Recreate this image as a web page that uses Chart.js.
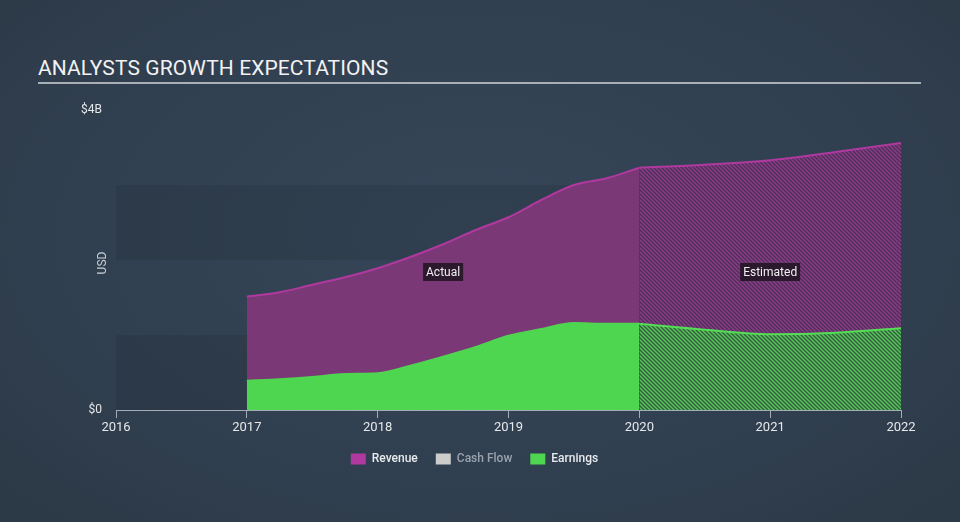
<!DOCTYPE html>
<html>
<head>
<meta charset="utf-8">
<script src="https://cdn.jsdelivr.net/npm/chart.js@4/dist/chart.umd.min.js"></script>
<style>
  html, body { margin: 0; padding: 0; }
  body {
    width: 960px; height: 522px; overflow: hidden; position: relative;
    background: radial-gradient(ellipse at 50% 45%, #364658 0%, #314051 55%, #2c3946 100%);
    font-family: Roboto, "Noto Sans", sans-serif;
  }
  #title {
    position: absolute; left: 38px; top: 56px; width: 883px;
    color: #f2f2f2; font-size: 21px; letter-spacing: 0.1px;
    padding-bottom: 2px; border-bottom: 2px solid #a9afb6; line-height: 24px;
  }
  #wrap { position: absolute; left: 0; top: 0; width: 960px; height: 522px; }
</style>
</head>
<body>
<div id="title">ANALYSTS GROWTH EXPECTATIONS</div>
<div id="wrap"><canvas id="chart"></canvas></div>
<script>
// values in $ billions, x = year
var actualYears = [2017, 2017.25, 2017.5, 2017.75, 2018, 2018.25, 2018.5, 2018.75, 2019, 2019.25, 2019.5, 2019.75, 2020];
var revenueActual = [1.51, 1.57, 1.67, 1.77, 1.89, 2.04, 2.21, 2.40, 2.57, 2.80, 3.00, 3.09, 3.23];
var earningsActual = [0.39, 0.41, 0.44, 0.48, 0.49, 0.59, 0.71, 0.84, 0.99, 1.08, 1.16, 1.15, 1.15];

var estYears = [2020, 2020.5, 2021, 2021.5, 2022];
var revenueEst = [3.23, 3.27, 3.33, 3.44, 3.56];
var earningsEst = [1.15, 1.07, 1.01, 1.03, 1.09];

var legendNames = ["Revenue", "Cash Flow", "Earnings"];
var legendColors = ["#b0399f", "#cccccc", "#4fd651"];
var yTicks = [0, 4];

function hatch(bg, fg) {
  var c = document.createElement('canvas');
  c.width = 4; c.height = 4;
  var x = c.getContext('2d');
  x.fillStyle = bg;
  x.fillRect(0, 0, 4, 4);
  x.strokeStyle = fg;
  x.lineWidth = 1.3;
  x.beginPath();
  x.moveTo(-1, -1); x.lineTo(5, 5);
  x.moveTo(-1, 3); x.lineTo(1, 5);
  x.moveTo(3, -1); x.lineTo(5, 1);
  x.stroke();
  return x.createPattern(c, 'repeat');
}

function pts(xs, ys) {
  var out = [];
  for (var i = 0; i < xs.length; i++) out.push({ x: xs[i], y: ys[i] });
  return out;
}

// background bands behind the plot + USD label + Actual/Estimated tags
var extras = {
  id: 'extras',
  afterLayout: function (chart) {
    // legend sits a little right of the canvas centre in the original
    chart.legend.left += 24;
    chart.legend.right += 24;
    if (chart.legend.legendHitBoxes) chart.legend.legendHitBoxes.forEach(function (h) { h.left += 24; });
  },
  beforeDatasetsDraw: function (chart) {
    var ctx = chart.ctx, a = chart.chartArea, y = chart.scales.y;
    ctx.save();
    ctx.fillStyle = 'rgba(0,0,0,0.085)';
    [[0, 1], [2, 3]].forEach(function (b) {
      var top = y.getPixelForValue(b[1]), bot = y.getPixelForValue(b[0]);
      ctx.fillRect(a.left, top, a.right - a.left, bot - top);
    });
    ctx.restore();
  },
  afterDraw: function (chart) {
    var ctx = chart.ctx, a = chart.chartArea, xs = chart.scales.x, y = chart.scales.y;
    ctx.save();
    ctx.translate(103, (a.top + a.bottom) / 2 + 3);
    ctx.rotate(-Math.PI / 2);
    ctx.fillStyle = '#c9ced4';
    ctx.font = '12px Roboto';
    ctx.textAlign = 'center';
    ctx.textBaseline = 'middle';
    ctx.fillText('USD', 0, 0);
    ctx.restore();

    function tag(text, xv) {
      var px = xs.getPixelForValue(xv), py = y.getPixelForValue(1.84);
      ctx.save();
      ctx.font = '12px Roboto';
      var w = ctx.measureText(text).width + 6;
      ctx.fillStyle = 'rgba(32,20,34,0.85)';
      ctx.fillRect(px - w / 2, py - 9, w, 18);
      ctx.fillStyle = '#f0f0f0';
      ctx.textAlign = 'center';
      ctx.textBaseline = 'middle';
      ctx.fillText(text, px, py + 1);
      ctx.restore();
    }
    tag('Actual', (actualYears[0] + actualYears[actualYears.length - 1]) / 2);
    tag('Estimated', (estYears[0] + estYears[estYears.length - 1]) / 2);
  }
};

var ctx = document.getElementById('chart').getContext('2d');
var chart = new Chart(ctx, {
  type: 'line',
  data: {
    datasets: [{
      label: 'Earnings',
      data: pts(actualYears, earningsActual),
      order: 0,
      fill: 'origin',
      backgroundColor: '#4fd651',
      borderColor: '#4fd651',
      borderWidth: 2
    }, {
      label: 'Earnings est',
      data: pts(estYears, earningsEst),
      order: 0,
      fill: 'origin',
      backgroundColor: hatch('#35603f', '#58c85b'),
      borderColor: '#55dd56',
      borderWidth: 2
    }, {
      label: 'Revenue',
      data: pts(actualYears, revenueActual),
      order: 1,
      fill: 'origin',
      backgroundColor: '#7a3876',
      borderColor: '#b0399f',
      borderWidth: 2
    }, {
      label: 'Revenue est',
      data: pts(estYears, revenueEst),
      order: 1,
      fill: 'origin',
      backgroundColor: hatch('#4e3058', '#8e3c8b'),
      borderColor: '#b0399f',
      borderWidth: 2
    }]
  },
  options: {
    responsive: true,
    maintainAspectRatio: false,
    animation: false,
    events: [],
    elements: { point: { radius: 0 }, line: { cubicInterpolationMode: 'monotone' } },
    layout: { padding: { left: 0, right: 59, top: 110, bottom: 47 } },
    scales: {
      x: {
        type: 'linear',
        min: 2016,
        max: 2022,
        afterFit: function (s) { s.height = 25; },
        ticks: {
          stepSize: 1,
          color: '#e6e8ea',
          font: { family: 'Roboto', size: 13 },
          padding: 2,
          maxRotation: 0,
          callback: function (v) { return String(v); }
        },
        grid: { drawOnChartArea: false, drawTicks: true, tickLength: 8, color: '#a4adb7' },
        border: { display: true, color: '#a4adb7', width: 1 }
      },
      y: {
        min: yTicks[0],
        max: yTicks[1],
        afterFit: function (s) { s.width = 116; },
        afterBuildTicks: function (s) { s.ticks = yTicks.map(function (v) { return { value: v }; }); },
        ticks: {
          color: '#e6e8ea',
          font: { family: 'Roboto', size: 12 },
          padding: 14,
          callback: function (v) { return v === 0 ? '$0' : '$' + v + 'B'; }
        },
        grid: { display: false, drawTicks: false },
        border: { display: false }
      }
    },
    plugins: {
      tooltip: { enabled: false },
      legend: {
        position: 'bottom',
        labels: {
          boxWidth: 15,
          boxHeight: 11,
          padding: 18,
          font: { family: 'Roboto', size: 12, weight: '500' },
          generateLabels: function () {
            return legendNames.map(function (n, i) {
              return {
                text: n,
                fillStyle: legendColors[i],
                strokeStyle: legendColors[i],
                lineWidth: 0,
                fontColor: n === 'Cash Flow' ? '#9aa3ad' : '#e8eaec',
                hidden: false,
                datasetIndex: i
              };
            });
          }
        }
      }
    }
  },
  plugins: [extras]
});
</script>
</body>
</html>
